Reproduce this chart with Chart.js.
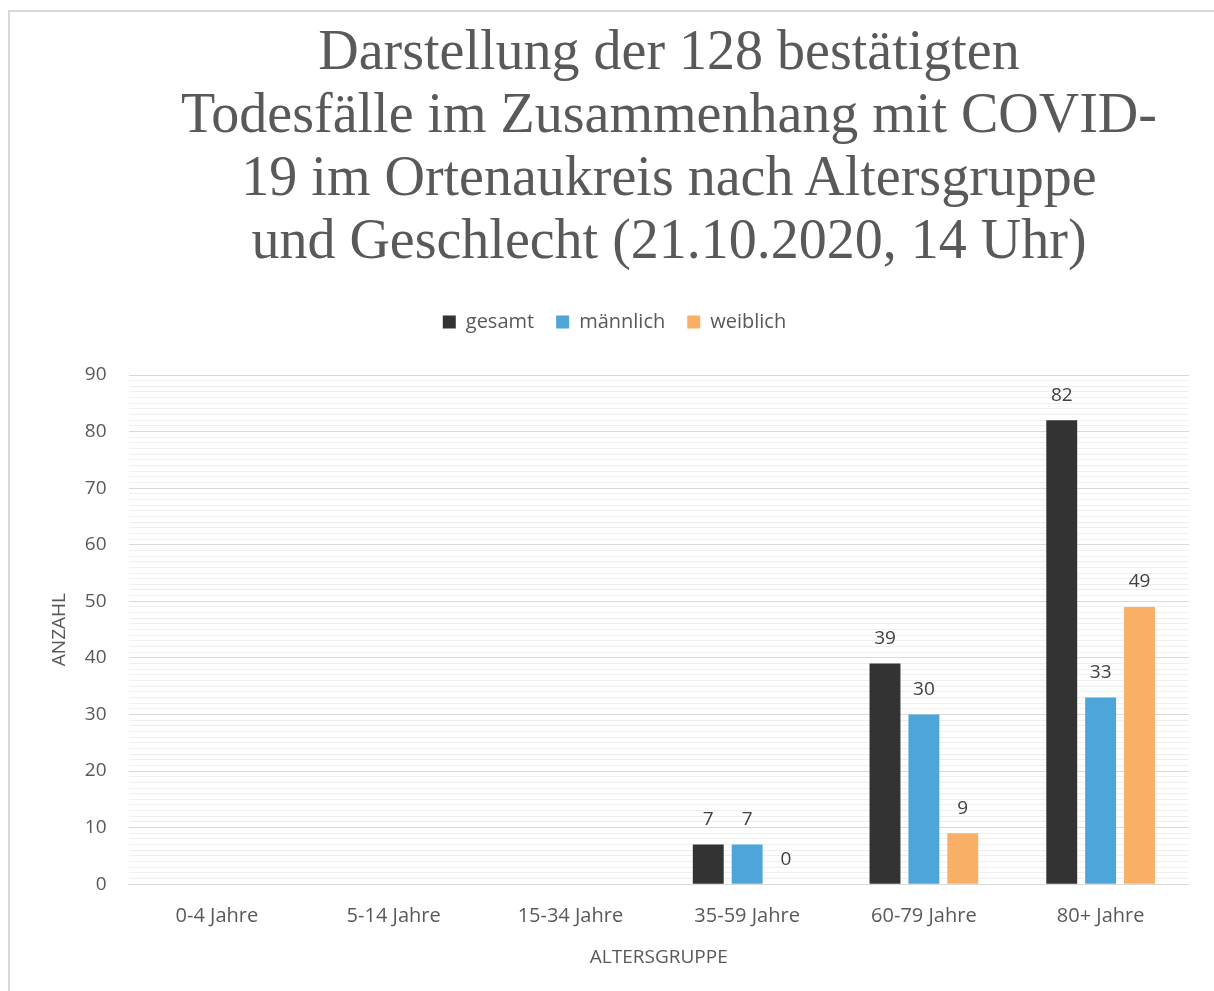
<!DOCTYPE html>
<html>
<head>
<meta charset="utf-8">
<script src="https://cdn.jsdelivr.net/npm/chart.js@4"></script>
<style>
  body { margin: 0; background: #fff; }
  #frame { position: absolute; left: 8px; top: 10px; width: 1300px; height: 1100px;
           border-left: 2px solid #d9d9d9; border-top: 2px solid #d9d9d9; }
  #title { position: absolute; left: 109px; width: 1120px; top: 19px; text-align: center;
           font-family: "Liberation Serif", serif; font-size: 56px; line-height: 63px; color: #595959; }
  #wrap { position: absolute; left: 0; top: 0; width: 1214px; height: 991px; }
</style>
</head>
<body>
<div id="frame"></div>
<div id="title">Darstellung der 128 bestätigten<br>Todesfälle im Zusammenhang mit COVID-<br>19 im Ortenaukreis nach Altersgruppe<br>und Geschlecht (21.10.2020, 14 Uhr)</div>
<div id="wrap"><canvas id="barChart"></canvas></div>
<script>
// Altersgruppen und Werte (Stand 21.10.2020)
var ageGroups = ["0-4 Jahre", "5-14 Jahre", "15-34 Jahre", "35-59 Jahre", "60-79 Jahre", "80+ Jahre"];
var gesamt    = [null, null, null, 7, 39, 82];
var maennlich = [null, null, null, 7, 30, 33];
var weiblich  = [null, null, null, 0, 9, 49];
var yTicks = [0, 10, 20, 30, 40, 50, 60, 70, 80, 90];

var textColor = "#595959";

// draws the value above each bar
var barLabels = {
  id: "barLabels",
  afterDatasetsDraw: function (chart) {
    var ctx = chart.ctx;
    ctx.save();
    ctx.font = "19px 'Open Sans'";
    ctx.fillStyle = "#404040";
    ctx.textAlign = "center";
    ctx.textBaseline = "middle";
    chart.data.datasets.forEach(function (ds, i) {
      chart.getDatasetMeta(i).data.forEach(function (bar, j) {
        if (ds.data[j] === null) return;
        ctx.fillText(ds.data[j], bar.x, bar.y - 25);
      });
    });
    ctx.restore();
  }
};

// extra space below the legend
var legendGap = {
  id: "legendGap",
  beforeInit: function (chart) {
    var fit = chart.legend.fit;
    chart.legend.fit = function () {
      fit.bind(chart.legend)();
      this.height += 33;
    };
  }
};

var chartDiv = document.getElementById("barChart");
var myChart = new Chart(chartDiv, {
  type: "bar",
  data: {
    labels: ageGroups,
    datasets: [
      { label: "gesamt", data: gesamt, backgroundColor: "#333333" },
      { label: "männlich", data: maennlich, backgroundColor: "#4ea5d9" },
      { label: "weiblich", data: weiblich, backgroundColor: "#f9b066" }
    ]
  },
  options: {
    responsive: true,
    maintainAspectRatio: false,
    animation: false,
    categoryPercentage: 0.66,
    barPercentage: 0.795,
    layout: { padding: { top: 290, left: 40, right: 25, bottom: 18 } },
    plugins: {
      title: { display: false },
      tooltip: { enabled: false },
      legend: {
        display: true,
        labels: {
          boxWidth: 13, boxHeight: 13, padding: 22,
          color: textColor,
          font: { family: "'Open Sans'", size: 20 }
        }
      }
    },
    scales: {
      x: {
        grid: { display: false, drawTicks: false },
        border: { display: true, color: "#d9d9d9", width: 1 },
        ticks: { color: textColor, font: { family: "'Open Sans'", size: 20 }, padding: 20 },
        title: { display: true, text: "ALTERSGRUPPE", color: textColor,
                 font: { family: "'Open Sans'", size: 19 }, padding: { top: -2, bottom: 4 } }
      },
      y: {
        min: 0, max: 90,
        border: { display: false },
        grid: {
          drawTicks: false,
          color: function (c) { return c.tick.value % 10 === 0 ? "#d9d9d9" : "#efefef"; }
        },
        ticks: {
          stepSize: 1, autoSkip: false, padding: 22,
          color: textColor, font: { family: "'Open Sans'", size: 19 },
          callback: function (v) { return yTicks.indexOf(v) >= 0 ? v : ""; }
        },
        title: { display: true, text: "ANZAHL", color: textColor,
                 font: { family: "'Open Sans'", size: 19 }, padding: { top: 8, bottom: -8 } }
      }
    }
  },
  plugins: [barLabels, legendGap]
});
</script>
</body>
</html>
